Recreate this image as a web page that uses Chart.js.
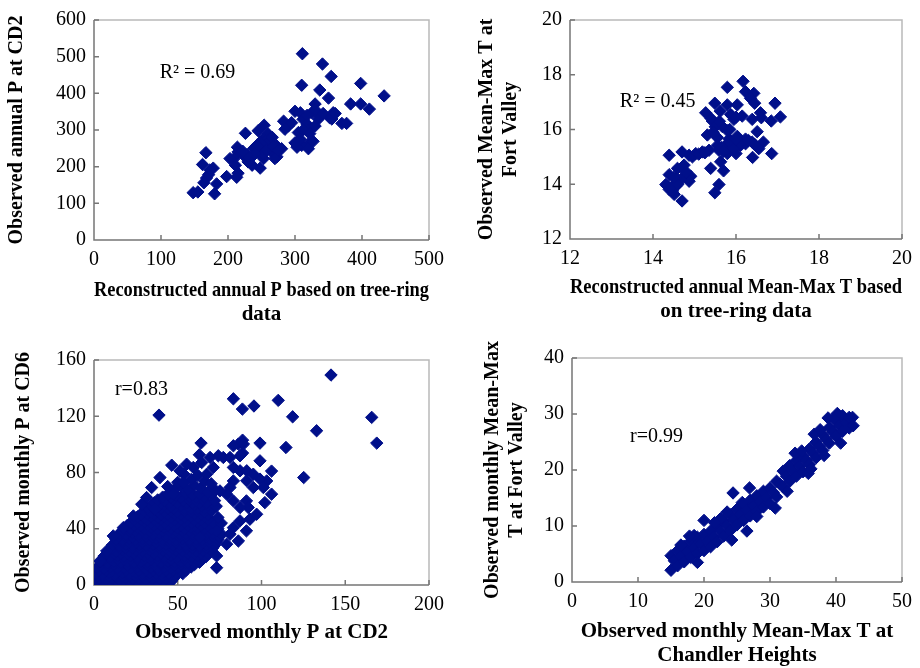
<!DOCTYPE html>
<html>
<head>
<meta charset="utf-8">
<script src="https://cdn.jsdelivr.net/npm/chart.js@4.4.1/dist/chart.umd.min.js"></script>
<style>
  body { margin: 0; background: #fff; }
  .panel { position: absolute; width: 460px; height: 334px; }
</style>
</head>
<body>
<div class="panel" style="left:0;top:0"><canvas id="c1"></canvas></div>
<div class="panel" style="left:460px;top:0"><canvas id="c2"></canvas></div>
<div class="panel" style="left:0;top:334px"><canvas id="c3"></canvas></div>
<div class="panel" style="left:460px;top:334px"><canvas id="c4"></canvas></div>
<script>
// annual precipitation: reconstructed (x) vs observed at CD2 (y)
const annualP = [
  [311,508],[341,480],[354,446],[310,422],[337,409],[398,427],[350,387],[433,393],
  [383,371],[398,371],[411,357],[330,371],[325,347],[300,351],[308,347],[337,338],
  [357,347],[352,333],[370,318],[377,318],[312,329],[318,316],[330,311],[283,324],
  [285,302],[290,311],[305,293],[320,298],[305,271],[320,262],[327,269],[310,258],
  [303,253],[320,249],[254,313],[245,298],[226,291],[260,289],[263,276],[253,276],
  [248,267],[243,258],[238,249],[263,262],[272,258],[280,249],[257,249],[265,240],
  [273,227],[270,222],[253,222],[248,196],[236,204],[230,213],[223,231],[214,253],
  [215,240],[220,240],[209,222],[203,222],[211,204],[215,182],[213,171],[198,173],
  [230,227],[238,231],[245,240],[253,236],[167,238],[162,206],[178,196],[173,191],
  [171,178],[168,169],[164,156],[183,153],[180,126],[148,129],[155,131],
  [256,270],[260,265],[266,280],[250,262],[244,255],[258,245],[268,255],[275,245],
  [240,235],[228,232],[222,242],[318,340],[330,355],[335,330],[342,345],[355,330],
  [360,345],[295,320],[312,300],[322,290],[300,265],[308,275]
];

// annual mean-max temperature: reconstructed (x) vs observed at Fort Valley (y)
const annualT = [
  [16.17,17.76],[15.79,17.54],[16.23,17.38],[16.43,17.32],[16.35,17.14],[16.45,16.96],
  [15.49,16.96],[15.79,16.9],[16.03,16.9],[16.94,16.96],[15.27,16.61],[15.62,16.67],
  [15.87,16.55],[16.15,16.49],[16.59,16.61],[17.07,16.46],[15.43,16.31],[15.55,16.19],
  [15.67,16.11],[15.95,16.37],[16.39,16.37],[16.85,16.31],[16.61,16.43],[15.79,15.96],
  [16.51,15.92],[15.31,15.8],[15.55,15.71],[15.83,15.65],[16.03,15.75],[16.23,15.65],
  [16.39,15.54],[16.66,15.54],[15.55,15.42],[15.75,15.42],[15.9,15.3],[16.11,15.42],
  [16.23,15.48],[15.59,15.24],[15.79,15.12],[16.0,15.12],[16.55,15.3],[16.86,15.12],
  [16.4,14.98],[15.35,15.24],[15.19,15.18],[15.03,15.12],[14.87,15.06],[14.95,15.0],
  [14.7,15.18],[14.39,15.06],[15.63,14.82],[15.39,14.58],[15.7,14.49],[14.75,14.7],
  [14.59,14.58],[14.39,14.35],[14.79,14.35],[14.91,14.29],[14.87,14.11],[14.67,14.17],
  [14.31,13.99],[14.39,13.81],[14.51,13.63],[14.35,13.93],[14.55,13.93],[14.7,13.39],
  [15.59,13.99],[15.49,13.69],[14.55,14.23],[14.47,13.75],
  [15.5,16.1],[15.6,16.3],[15.45,15.9],[15.65,15.35],[15.85,15.55],[15.95,15.3],
  [16.1,15.5],[15.7,15.2],[15.9,16.5],[16.0,16.45],[15.1,15.1],[15.25,15.15],
  [14.45,13.9],[14.6,14.0],[14.8,14.45],[14.5,14.25],[16.3,15.6],[16.45,15.45],
  [15.4,16.4],[15.85,16.0],[16.0,15.65]
];

// monthly precipitation: CD2 (x) vs CD6 (y)
const monthlyP = [
  [0,1],[4,0.5],[8,1.5],[12,0.8],[16,1.2],[20,0.6],[24,1.4],[28,0.9],[32,1.1],[36,0.7],[40,1.3],[44,0.5],
  [2,2.5],[6,2.5],[10,2.5],[14,2.5],[18,2.5],[22,2.5],[26,2.5],[30,2.5],[34,2.5],[38,2.5],[42,2.5],[46,2.5],
  [0.5,4.5],[3,5],[7,4],[11,4.8],[15,4.2],[19,5],[23,4.4],[27,4.9],[31,4.1],[35,4.6],[39,4.3],[43,5],[47,4.2],
  [2,6.5],[5,6.5],[9,6.5],[13,6.5],[17,6.5],[21,6.5],[25,6.5],[29,6.5],[33,6.5],[37,6.5],[41,6.5],[45,6.5],[49,6.5],
  [1,8.5],[5,8],[9,9],[13,8.2],[17,8.8],[21,8.1],[25,9],[29,8.4],[33,8.7],[37,8.2],[41,8.9],[45,8.3],[49,8.6],[53,8.1],
  [3,10.5],[7,10.5],[11,10.5],[15,10.5],[19,10.5],[23,10.5],[27,10.5],[31,10.5],[35,10.5],[39,10.5],[43,10.5],[47,10.5],[51,10.5],[55,10.5],
  [2,12.5],[6,12],[10,13],[14,12.2],[18,12.8],[22,12.1],[26,13],[30,12.4],[34,12.7],[38,12.2],[42,12.9],[46,12.3],[50,12.6],[54,12.1],[58,12.8],
  [4,14.5],[8,14.5],[12,14.5],[16,14.5],[20,14.5],[24,14.5],[28,14.5],[32,14.5],[36,14.5],[40,14.5],[44,14.5],[48,14.5],[52,14.5],[56,14.5],[60,14.5],
  [4,16.5],[8,16],[12,17],[16,16.2],[20,16.8],[24,16.1],[28,17],[32,16.4],[36,16.7],[40,16.2],[44,16.9],[48,16.3],[52,16.6],[56,16.1],[60,16.8],[63,16.2],
  [6,18.5],[10,18.5],[14,18.5],[18,18.5],[22,18.5],[26,18.5],[30,18.5],[34,18.5],[38,18.5],[42,18.5],[46,18.5],[50,18.5],[54,18.5],[58,18.5],[62,18.5],[65,18.5],
  [6,20.5],[10,20],[14,21],[18,20.2],[22,20.8],[26,20.1],[30,21],[34,20.4],[38,20.7],[42,20.2],[46,20.9],[50,20.3],[54,20.6],[58,20.1],[62,20.8],[67,20.3],
  [8,22.5],[12,22.5],[16,22.5],[20,22.5],[24,22.5],[28,22.5],[32,22.5],[36,22.5],[40,22.5],[44,22.5],[48,22.5],[52,22.5],[56,22.5],[60,22.5],[64,22.5],[68,22.5],
  [9,24.5],[13,24],[17,25],[21,24.2],[25,24.8],[29,24.1],[33,25],[37,24.4],[41,24.7],[45,24.2],[49,24.9],[53,24.3],[57,24.6],[61,24.1],[65,24.8],[70,24.3],
  [11,26.5],[15,26.5],[19,26.5],[23,26.5],[27,26.5],[31,26.5],[35,26.5],[39,26.5],[43,26.5],[47,26.5],[51,26.5],[55,26.5],[59,26.5],[63,26.5],[67,26.5],[71,26.5],
  [11,28.5],[15,28],[19,29],[23,28.2],[27,28.8],[31,28.1],[35,29],[39,28.4],[43,28.7],[47,28.2],[51,28.9],[55,28.3],[59,28.6],[63,28.1],[67,28.8],[72,28.3],
  [13,30.5],[17,30.5],[21,30.5],[25,30.5],[29,30.5],[33,30.5],[37,30.5],[41,30.5],[45,30.5],[49,30.5],[53,30.5],[57,30.5],[61,30.5],[65,30.5],[69,30.5],[73,30.5],
  [13,32.5],[17,32],[21,33],[25,32.2],[29,32.8],[33,32.1],[37,33],[41,32.4],[45,32.7],[49,32.2],[53,32.9],[57,32.3],[61,32.6],[65,32.1],[69,32.8],[74,32.3],
  [15,34.5],[19,34.5],[23,34.5],[27,34.5],[31,34.5],[35,34.5],[39,34.5],[43,34.5],[47,34.5],[51,34.5],[55,34.5],[59,34.5],[63,34.5],[67,34.5],[71,34.5],[75,34.5],
  [15,36.5],[19,36],[23,37],[27,36.2],[31,36.8],[35,36.1],[39,37],[43,36.4],[47,36.7],[51,36.2],[55,36.9],[59,36.3],[63,36.6],[67,36.1],[71,36.8],[76,36.3],
  [17,38.5],[21,38.5],[25,38.5],[29,38.5],[33,38.5],[37,38.5],[41,38.5],[45,38.5],[49,38.5],[53,38.5],[57,38.5],[61,38.5],[65,38.5],[69,38.5],[73,38.5],
  [18,40.5],[22,40],[26,41],[30,40.2],[34,40.8],[38,40.1],[42,41],[46,40.4],[50,40.7],[54,40.2],[58,40.9],[62,40.3],[66,40.6],[70,40.1],[74,40],
  [20,42.5],[24,42.5],[28,42.5],[32,42.5],[36,42.5],[40,42.5],[44,42.5],[48,42.5],[52,42.5],[56,42.5],[60,42.5],[64,42.5],[68,42.5],
  [22,44.5],[26,44],[30,45],[34,44.2],[38,44.8],[42,44.1],[46,45],[50,44.4],[54,44.7],[58,44.2],[62,44.9],[66,44.3],[71,44.6],[76,44],
  [24,46.5],[28,46.5],[32,46.5],[36,46.5],[40,46.5],[44,46.5],[48,46.5],[52,46.5],[56,46.5],[60,46.5],[64,46.5],[68,46.5],
  [26,48.5],[30,48],[34,49],[38,48.2],[42,48.8],[46,48.1],[50,49],[54,48.4],[58,48.7],[62,48.2],[66,48.9],[74,48],
  [28,50.5],[32,50.5],[36,50.5],[40,50.5],[44,50.5],[48,50.5],[52,50.5],[56,50.5],[60,50.5],[64,50.5],[68,50.5],
  [30,52.5],[34,52],[38,53],[42,52.2],[46,52.8],[50,52.1],[54,53],[58,52.4],[62,52.7],[66,52.2],[70,52.9],
  [32,54.5],[36,54.5],[40,54.5],[44,54.5],[48,54.5],[54,54.5],[58,54.5],[62,54.5],[66,54.5],
  [34,56.5],[38,56],[42,57],[46,56.2],[52,56.8],[56,56.1],[60,57],[64,56.4],[68,56.7],[73,56],
  [36,58.5],[40,58.5],[45,58.5],[50,58.5],[55,58.5],[59,58.5],[63,58.5],[67,58.5],
  [38,60.5],[42,60],[47,61],[53,60.2],[57,60.8],[61,60.1],[65,61],[72,60],
  [41,62.5],[46,62.5],[52,62.5],[57,62.5],[61,62.5],[66,62.5],
  [44,64.5],[49,64],[55,65],[59,64.2],[63,64.8],[70,64.3],
  [48,68],[52,70],[56,68],[60,71],[64,69],[68,66],[72,68],[58,75],[50,73],[66,74],[44,70],[62,78],[70,72],
  // scattered high values
  [141.5,149.3],[83.2,132.4],[110,131.3],[95.5,127.3],[88.6,125.1],[38.8,120.8],[118.6,119.6],
  [165.8,119.2],[132.9,109.7],[168.8,100.9],[114.6,97.8],[125.2,76.4],[99.1,100.9],[88.7,103],
  [63.9,100.9],[86.2,100.2],[88.7,93.8],[99.1,88.3],[74.2,91.9],[46.4,85.2],[39.4,76.4],
  [34.4,69.3],[31.4,62.2],[28.5,57.4],[106,81],[106,64.6],[102,58.6],[91,59.8],[91,38.5],
  [86.2,31.3],[73.2,20.7],[73.2,12.3],[63.3,33.7],[97.1,50.3],[103.1,74],[83.2,74],[81.2,69.3],
  [62.9,92.6],[64.3,87.1],[69.3,90.7],[77.2,90.7],[81.2,90.7],[89.2,100.2],[83.2,99],[87.2,91.9],
  [83.2,83.6],[87.2,81.2],[91.2,81.2],[95.1,78.8],[91.2,74.1],[99.1,75.3],[95.1,69.3],
  [101.1,69.3],[93.1,46.8],[87.2,45.6],[83.2,40.8],[92.1,55.1],[87.2,55.1],[83.2,59.8],
  [79.2,64.6],[75.2,66.9],[71.2,83.6],[67.3,78.8],[59.3,83.6],[53.7,78.8],[51.3,81.2],
  [55.3,85.9],[53.3,72.9],[47.4,64.6],[36.4,53.9],[23.5,49.1],[17.5,40.8],[11.5,34.9],
  [7.6,24.2],[3.6,17.1],[79.2,29],[81.2,36.1]
];

// monthly mean-max temperature: Chandler Heights (x) vs Fort Valley (y)
const monthlyT = [
  [15,2.1],[15,4.7],[15.5,3.8],[16,2.9],[16,5.6],[16.5,4.6],[17,3.6],[17,6.4],[17.5,5.4],
  [18,4.4],[18,7.3],[18.5,6.2],[19,5.1],[19,8.0],[19.5,6.8],[20,5.6],[20,8.5],[20.5,7.3],
  [21,6.3],[21,9.1],[21.5,8.1],[22,7.2],[22,10.0],[22.5,9.1],[23,8.2],[23,11.0],[23.5,10.1],
  [24,9.2],[24,12.0],[24.5,11.1],[25,10.2],[25,13.0],[25.5,12.0],[26,11.0],[26,13.8],[26.5,12.8],
  [27,11.8],[27,14.6],[27.5,13.6],[28,12.6],[28,15.4],[28.5,14.4],[29,13.4],[29,16.2],[29.5,15.1],
  [30,14.0],[30,16.8],[30.5,16.0],[31,15.2],[31,18.0],[31.5,17.5],[32,17.0],[32,19.8],[32.5,18.9],
  [33,18.0],[33,20.8],[33.5,19.8],[34,18.9],[34,21.7],[34.5,20.7],[35,19.7],[35,22.5],[35.5,21.7],
  [36,21.0],[36,23.8],[36.5,23.0],[37,22.2],[37,25.0],[37.5,24.2],[38,23.5],[38,26.3],[38.5,25.5],
  [39,24.8],[39,27.6],[39.5,26.8],[40,26.1],[40,28.9],[40.5,27.9],[41,26.9],[41,29.7],[41.5,28.5],
  [42,27.5],[42,29.4],
  [24.4,15.9],[20,11],[26.9,16.8],[26.5,9.1],[28,11.7],[24.2,7.5],[42.5,29.4],[42.6,27.9],
  [40.7,24.8],[35.8,19.4],[36.7,26.4],[40.2,30.1],[19,3.5],[23.5,12.5],[22.5,11.3],[18.5,8.3],
  [33.8,23],[38.8,29.3],[37.6,27.2],[16.5,6.6],[17.8,8.2],[21.6,10.6],[25.8,14.2],[30.8,13.2],
  [32.6,16.2],[34.8,23.4],[36.2,20.2],[38.2,22.6],[39.6,29.2]
];

const ticksP1x = [0, 100, 200, 300, 400, 500];
const ticksP1y = [0, 100, 200, 300, 400, 500, 600];
const ticksP2x = [12, 14, 16, 18, 20];
const ticksP2y = [12, 14, 16, 18, 20];
const ticksP3x = [0, 50, 100, 150, 200];
const ticksP3y = [0, 40, 80, 120, 160];
const ticksP4x = [0, 10, 20, 30, 40, 50];
const ticksP4y = [0, 10, 20, 30, 40];

const navy = '#000f8a';
const serif = "'Liberation Serif', 'Times New Roman', serif";

// axis lines, light top/right frame and inward tick marks
const frame = {
  id: 'frame',
  beforeDatasetsDraw(chart) {
    const { ctx, chartArea: a, scales: { x, y } } = chart;
    ctx.save();
    ctx.lineWidth = 1.5;
    ctx.strokeStyle = '#b9b9b9';
    ctx.beginPath();
    ctx.moveTo(a.left, a.top);
    ctx.lineTo(a.right, a.top);
    ctx.lineTo(a.right, a.bottom);
    ctx.stroke();
    ctx.strokeStyle = '#767676';
    ctx.beginPath();
    ctx.moveTo(a.left, a.top);
    ctx.lineTo(a.left, a.bottom);
    ctx.lineTo(a.right, a.bottom);
    x.ticks.forEach(t => {
      const px = x.getPixelForValue(t.value);
      ctx.moveTo(px, a.bottom);
      ctx.lineTo(px, a.bottom - 5);
    });
    y.ticks.forEach(t => {
      const py = y.getPixelForValue(t.value);
      ctx.moveTo(a.left, py);
      ctx.lineTo(a.left + 5, py);
    });
    ctx.stroke();
    ctx.restore();
  }
};

// statistic written inside the plot
const note = {
  id: 'note',
  afterDatasetsDraw(chart, args, opts) {
    const { ctx, scales: { x, y } } = chart;
    ctx.save();
    ctx.font = '20px ' + serif;
    ctx.fillStyle = '#000';
    ctx.textBaseline = 'middle';
    ctx.fillText(opts.text, x.getPixelForValue(opts.x), y.getPixelForValue(opts.y));
    ctx.restore();
  }
};

function axis(min, max, ticks, title, size, titleSize) {
  return {
    type: 'linear',
    min: min,
    max: max,
    afterBuildTicks: s => { s.ticks = ticks.map(v => ({ value: v })); },
    afterFit: s => {
      if (s.isHorizontal()) s.height = size; else s.width = size;
    },
    grid: { display: false, drawTicks: false },
    border: { display: false },
    ticks: { color: '#000', font: { family: serif, size: 20 }, padding: 8 },
    title: {
      display: true,
      text: title,
      color: '#000',
      padding: 0,
      font: { family: serif, size: titleSize, weight: 'bold', lineHeight: 24 / titleSize }
    }
  };
}

function panel(id, points, xAxis, yAxis, pad, noteOpts) {
  new Chart(document.getElementById(id), {
    type: 'scatter',
    data: {
      datasets: [{
        data: points.map(p => ({ x: p[0], y: p[1] })),
        pointStyle: 'rectRot',
        pointRadius: 6.2,
        backgroundColor: navy,
        borderColor: navy,
        borderWidth: 1
      }]
    },
    options: {
      responsive: true,
      maintainAspectRatio: false,
      animation: false,
      layout: { padding: pad },
      scales: { x: xAxis, y: yAxis },
      plugins: {
        legend: { display: false },
        tooltip: { enabled: false },
        note: noteOpts
      }
    },
    plugins: [frame, note]
  });
}

panel('c1', annualP,
  axis(0, 500, ticksP1x, ['Reconstructed annual P based on tree-ring', 'data'], 87, 21),
  axis(0, 600, ticksP1y, 'Observed annual P at CD2', 89, 20),
  { left: 5, right: 31, top: 15, bottom: 7 },
  { text: 'R² = 0.69', x: 98, y: 455 });

panel('c2', annualT,
  axis(12, 20, ticksP2x, ['Reconstructed annual Mean-Max T based', 'on tree-ring data'], 85, 21),
  axis(12, 20, ticksP2y, ['Observed Mean-Max T at', 'Fort Valley'], 95, 20),
  { left: 15, right: 16, top: 15, bottom: 10 },
  { text: 'R² = 0.45', x: 13.2, y: 17.0 });

panel('c3', monthlyP,
  axis(0, 200, ticksP3x, 'Observed monthly P at CD2', 60, 21),
  axis(0, 160, ticksP3y, 'Observed monthly P at CD6', 82, 20),
  { left: 12, right: 31, top: 26, bottom: 23 },
  { text: 'r=0.83', x: 12.5, y: 139 });

panel('c4', monthlyT,
  axis(0, 50, ticksP4x, ['Observed monthly Mean-Max T at', 'Chandler Heights'], 86, 21),
  axis(0, 40, ticksP4y, ['Observed monthly Mean-Max', 'T at Fort Valley'], 91, 20),
  { left: 21, right: 14, top: 24, bottom: 0 },
  { text: 'r=0.99', x: 8.8, y: 26 });
</script>
</body>
</html>
